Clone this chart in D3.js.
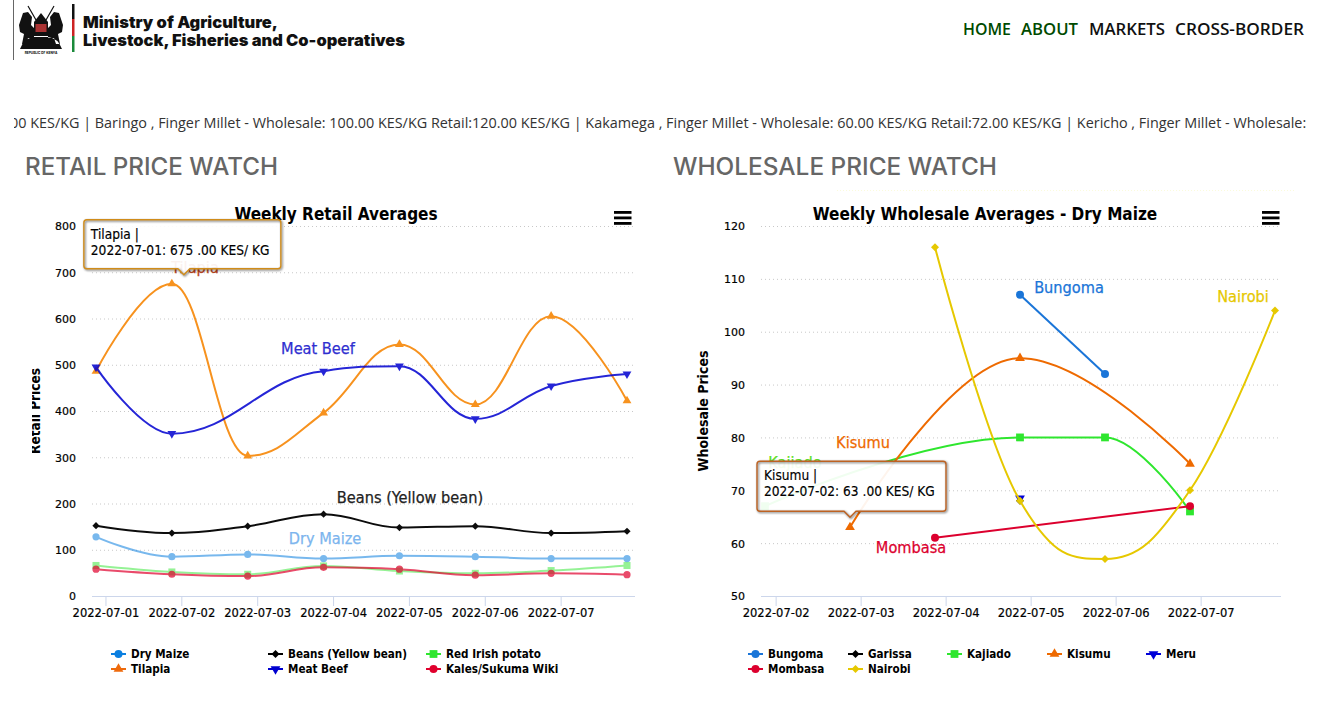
<!DOCTYPE html>
<html>
<head>
<meta charset="utf-8">
<title>Price Watch</title>
<script src="https://cdn.jsdelivr.net/npm/d3@7"></script>
<style>
  html, body { margin: 0; padding: 0; background: #fff; overflow: hidden; }
  svg { display: block; }
  .chart text { font-family: "DejaVu Sans", sans-serif; fill: #000; }
  .tick line { stroke: #c8c8c8; stroke-dasharray: 1 3; }
  .xaxis .tick line { stroke: #ccd6eb; stroke-dasharray: none; }
  .tick text { stroke: #000; stroke-width: .2px; }
  .tip { filter: drop-shadow(1px 1px 1.2px rgba(0,0,0,.6)); }
</style>
</head>
<body>
<svg id="page" width="1324" height="714"></svg>
<script>
"use strict";
// retail chart
const retailDates = ["2022-06-30T21:00Z","2022-07-01T21:00Z","2022-07-02T21:00Z","2022-07-03T21:00Z","2022-07-04T21:00Z","2022-07-05T21:00Z","2022-07-06T21:00Z","2022-07-07T21:00Z"];
const retailTicks = ["2022-07-01","2022-07-02","2022-07-03","2022-07-04","2022-07-05","2022-07-06","2022-07-07"];
const retailYTicks = [0,100,200,300,400,500,600,700,800];
const dryMaize = [128,85,90,81,87,85,81,81];
const beans = [152,136,151,177,148,151,136,140];
const irishPotato = [66,52,47,65,54,49,55,66];
const tilapia = [486,675,303,396,544,414,605,422];
const meatBeef = [495,351,null,486,497,383,454,480];
const kales = [58,47,43,62,58,45,49,46];

// wholesale chart
const wholesaleDates = ["2022-07-01T21:00Z","2022-07-02T21:00Z","2022-07-03T21:00Z","2022-07-04T21:00Z","2022-07-05T21:00Z","2022-07-06T21:00Z","2022-07-07T21:00Z"];
const wholesaleTicks = ["2022-07-02","2022-07-03","2022-07-04","2022-07-05","2022-07-06","2022-07-07"];
const wholesaleYTicks = [50,60,70,80,90,100,110,120];
const bungoma = [null,null,null,107,92,null,null];
const garissa = [null,null,null,68,null,null,null];
const kajiado = [67,null,null,80,80,66,null];
const kisumu = [null,63,null,95,null,75,null];
const meru = [null,null,null,68.5,null,null,null];
const mombasa = [null,null,61,null,null,67,null];
const nairobi = [null,null,116,68,57,70,104];

const tickerText = "00 KES/KG | Baringo , Finger Millet - Wholesale: 100.00 KES/KG Retail:120.00 KES/KG | Kakamega , Finger Millet - Wholesale: 60.00 KES/KG Retail:72.00 KES/KG | Kericho , Finger Millet - Wholesale:";

const svg = d3.select("#page");
const defs = svg.append("defs");
defs.append("clipPath").attr("id","tickerClip").append("rect")
  .attr("x",14).attr("y",105).attr("width",1292).attr("height",35);
defs.append("clipPath").attr("id","retailTitleClip").append("rect")
  .attr("x",32).attr("y",340).attr("width",30).attr("height",140);

const diamond = {draw(ctx, size){
  const r = Math.sqrt(size/2);
  ctx.moveTo(0,-r); ctx.lineTo(r,0); ctx.lineTo(0,r); ctx.lineTo(-r,0); ctx.closePath();
}};
const markers = {
  circle: {type:d3.symbolCircle, k:3.14, rot:0},
  diamond: {type:diamond, k:2, rot:0},
  square: {type:d3.symbolSquare, k:3.8, rot:0},
  triangle: {type:d3.symbolTriangle, k:2.6, rot:0},
  down: {type:d3.symbolTriangle, k:2.6, rot:180}
};
const condensed = '"DejaVu Sans Condensed","DejaVu Sans"';

// spline with the same control points the original charting lib uses
function softSpline(context){
  return {
    areaStart(){}, areaEnd(){},
    lineStart(){ this.pts = []; },
    point(x,y){ this.pts.push([+x,+y]); },
    lineEnd(){
      const pts = this.pts, s = 1.5, d = s+1, conts = [];
      pts.forEach((p,i) => {
        if(i === 0 || i === pts.length-1){ conts.push([p[0],p[1],p[0],p[1]]); return; }
        const a = pts[i-1], b = pts[i+1];
        const lx = (s*p[0]+a[0])/d, rx = (s*p[0]+b[0])/d;
        let ly = (s*p[1]+a[1])/d, ry = (s*p[1]+b[1])/d;
        const c = (ry-ly)*(rx-p[0])/(rx-lx)+p[1]-ry;
        ly += c; ry += c;
        if(ly > a[1] && ly > p[1]){ ly = Math.max(a[1],p[1]); ry = 2*p[1]-ly; }
        else if(ly < a[1] && ly < p[1]){ ly = Math.min(a[1],p[1]); ry = 2*p[1]-ly; }
        if(ry > b[1] && ry > p[1]){ ry = Math.max(b[1],p[1]); ly = 2*p[1]-ry; }
        else if(ry < b[1] && ry < p[1]){ ry = Math.min(b[1],p[1]); ly = 2*p[1]-ry; }
        conts.push([lx,ly,rx,ry]);
      });
      pts.forEach((p,i) => {
        if(i === 0){ context.moveTo(p[0],p[1]); return; }
        const q = conts[i-1], r = conts[i];
        context.bezierCurveTo(q[2],q[3],r[0],r[1],p[0],p[1]);
      });
    }
  };
}

function drawChart(cfg){
  const g = svg.append("g").attr("class","chart");
  const x = d3.scaleUtc().domain(d3.extent(cfg.dates, d3.isoParse)).range(cfg.xRange);
  const y = d3.scaleLinear().domain(d3.extent(cfg.yTicks)).range(cfg.yRange);
  const parseDay = d3.utcParse("%Y-%m-%d");
  const xs = cfg.dates.map(d3.isoParse);

  // grid and value labels
  const yAxis = g.append("g").attr("transform",`translate(${cfg.plotLeft},0)`)
    .call(d3.axisLeft(y).tickValues(cfg.yTicks).tickFormat(d3.format("d")).tickSize(cfg.plotLeft-cfg.plotRight).tickPadding(cfg.yPad));
  yAxis.select(".domain").remove();
  yAxis.selectAll("text").style("font-size","11px").attr("dy","0.36em");

  const xAxis = g.append("g").attr("class","xaxis").attr("transform",`translate(0,${cfg.yRange[0]})`)
    .call(d3.axisBottom(x).tickValues(cfg.ticks.map(parseDay)).tickFormat(d3.utcFormat("%Y-%m-%d")).tickSize(10).tickPadding(-1));
  xAxis.select(".domain").remove();
  xAxis.selectAll("text").style("font-size","11.5px").attr("dy","1.05em");
  g.append("line").attr("x1",cfg.plotLeft).attr("x2",cfg.plotRight)
    .attr("y1",cfg.yRange[0]+0.5).attr("y2",cfg.yRange[0]+0.5).attr("stroke","#ccd6eb");

  g.append("text").attr("x",cfg.titleX).attr("y",220).attr("text-anchor","middle")
    .style("font-size","17px").style("font-weight","700")
    .style("font-family",condensed).text(cfg.title);

  const yTitle = g.append("g").attr("clip-path",cfg.yTitleClip || null);
  yTitle.append("text").attr("transform",`translate(${cfg.yTitleX},${cfg.yTitleY}) rotate(-90)`)
    .attr("text-anchor","middle").style("font-size",cfg.yTitleSize).style("font-weight","700")
    .style("font-family",condensed).text(cfg.yTitleText);

  const line = d3.line().x(d => x(d[0])).y(d => y(d[1])).curve(softSpline);

  cfg.series.forEach(s => {
    const pts = s.values.map((v,i) => [xs[i],v]).filter(d => d[1] !== null);
    const sg = g.append("g").attr("opacity",s.opacity);
    const stroke = s.lineColor || s.color;
    sg.append("path").datum(pts).attr("d",line).attr("fill","none")
      .attr("stroke",stroke).attr("stroke-width",2).attr("stroke-linejoin","round");
    const m = markers[s.marker];
    sg.selectAll("path.mark").data(pts).join("path").attr("class","mark")
      .attr("d",d3.symbol().type(m.type).size(cfg.r*cfg.r*m.k))
      .attr("transform",d => `translate(${x(d[0])},${y(d[1])}) rotate(${m.rot})`)
      .attr("fill",stroke);
    if(s.labelAt){
      const col = s.labelColor || s.color;
      g.append("text").attr("x",s.labelAt[0]).attr("y",s.labelAt[1]).attr("text-anchor","middle")
        .style("font-size","16.2px").style("font-weight","400")
        .style("font-family",condensed)
        .style("fill",col).style("stroke",col).style("stroke-width",".25px").text(s.name);
    }
  });

  // legend
  const legend = g.selectAll("g.leg").data(cfg.series).join("g").attr("class","leg")
    .attr("transform",(s,i) => `translate(${cfg.legendX[i%cfg.legendX.length]},${654+15*Math.floor(i/cfg.legendX.length)})`);
  legend.append("line").attr("x1",0).attr("x2",15).attr("stroke",d => d.color).attr("stroke-width",2);
  legend.append("path")
    .attr("d",s => d3.symbol().type(markers[s.marker].type).size(16*markers[s.marker].k)())
    .attr("transform",s => `translate(7.5,0) rotate(${markers[s.marker].rot})`).attr("fill",d => d.color);
  legend.append("text").attr("x",20).attr("dy","0.36em")
    .style("font-size","11.6px").style("font-weight","700")
    .style("font-family",condensed).text(d => d.name);

  // hamburger
  [0,5.5,11].forEach(o => g.append("rect").attr("x",cfg.plotRight-cfg.menuX).attr("y",211+o)
    .attr("width",17.5).attr("height",2.8).attr("fill","#000"));

  // tooltip, hung off the hovered point
  const t = cfg.tip;
  const px = x(d3.isoParse(t.date))+t.dx, py = y(t.value)-t.dy;
  const l = px-t.left, r = px+t.right, b = py-6, h = t.h;
  const p = d3.path();
  p.moveTo(l+3,b-h); p.lineTo(r-3,b-h); p.quadraticCurveTo(r,b-h,r,b-h+3);
  p.lineTo(r,b-3); p.quadraticCurveTo(r,b,r-3,b);
  p.lineTo(px+6,b); p.lineTo(px,py); p.lineTo(px-6,b);
  p.lineTo(l+3,b); p.quadraticCurveTo(l,b,l,b-3);
  p.lineTo(l,b-h+3); p.quadraticCurveTo(l,b-h,l+3,b-h); p.closePath();
  const tg = g.append("g");
  tg.append("path").attr("d",p.toString()).attr("fill","rgba(255,255,255,0.93)");
  tg.append("path").attr("class","tip").attr("d",p.toString())
    .attr("fill","none").attr("stroke",t.border).attr("stroke-width",1.4);
  [t.line1,t.line2].forEach((txt,i) => tg.append("text").attr("x",l+7).attr("y",b-h+19+16*i)
    .style("font-size","13.6px").style("font-weight","400").style("stroke","#000").style("stroke-width",".15px")
    .style("font-family",condensed).text(txt));
}

drawChart({
  title:"Weekly Retail Averages", titleX:336, dates:retailDates, ticks:retailTicks, yTicks:retailYTicks,
  xRange:[96,627], yRange:[596,226], plotLeft:92, plotRight:635, yPad:16, r:3.6, menuX:21,
  yTitleText:"Retail Prices", yTitleX:40, yTitleY:411, yTitleSize:"13.5px", yTitleClip:"url(#retailTitleClip)",
  legendX:[111,268,426],
  series:[
    {name:"Dry Maize",values:dryMaize,color:"#0b7fe0",marker:"circle",opacity:.55,labelAt:[325,544],labelColor:"#7cb5ee"},
    {name:"Beans (Yellow bean)",values:beans,color:"#000",marker:"diamond",opacity:.95,labelAt:[410,503],labelColor:"#222"},
    {name:"Red Irish potato",values:irishPotato,color:"#2ee62e",marker:"square",opacity:.5},
    {name:"Tilapia",values:tilapia,color:"#ee6a0c",lineColor:"#f7921e",marker:"triangle",opacity:1,labelAt:[195,273],labelColor:"#b8431a"},
    {name:"Meat Beef",values:meatBeef,color:"#0000d0",marker:"down",opacity:.85,labelAt:[318,354],labelColor:"#2f2fd0"},
    {name:"Kales/Sukuma Wiki",values:kales,color:"#e0002d",marker:"circle",opacity:.7}
  ],
  tip:{date:retailDates[1],value:tilapia[1],dx:12,dy:9,left:100,right:97,h:49,border:"#d08c1a",
    line1:"Tilapia |",line2:"2022-07-01: 675 .00 KES/ KG"}
});

drawChart({
  title:"Weekly Wholesale Averages - Dry Maize", titleX:985, dates:wholesaleDates, ticks:wholesaleTicks, yTicks:wholesaleYTicks,
  xRange:[765,1275], yRange:[596,226], plotLeft:761, plotRight:1281, yPad:16, r:4, menuX:19,
  yTitleText:"Wholesale Prices", yTitleX:708, yTitleY:411, yTitleSize:"14px",
  legendX:[748,848,947,1047,1146],
  series:[
    {name:"Bungoma",values:bungoma,color:"#1a75d8",marker:"circle",opacity:1,labelAt:[1069,293]},
    {name:"Garissa",values:garissa,color:"#000",marker:"diamond",opacity:1},
    {name:"Kajiado",values:kajiado,color:"#2ee62e",marker:"square",opacity:1,labelAt:[795,468],labelColor:"#5fe01f"},
    {name:"Kisumu",values:kisumu,color:"#ee6a00",marker:"triangle",opacity:1,labelAt:[863,448]},
    {name:"Meru",values:meru,color:"#0000d8",marker:"down",opacity:1},
    {name:"Mombasa",values:mombasa,color:"#dc002e",marker:"circle",opacity:1,labelAt:[911,553]},
    {name:"Nairobi",values:nairobi,color:"#e6c800",marker:"diamond",opacity:1,labelAt:[1243,302]}
  ],
  tip:{date:wholesaleDates[1],value:kisumu[1],dx:0,dy:10,left:93,right:96,h:50,border:"#bd6222",
    line1:"Kisumu |",line2:"2022-07-02: 63 .00 KES/ KG"}
});

// page furniture
svg.append("line").attr("x1",837).attr("x2",1295).attr("y1",190.5).attr("y2",190.5)
  .attr("stroke","#fbfbdc").attr("stroke-dasharray","1 2");

const heading = (txt,xPos,len) => svg.append("text").attr("x",xPos).attr("y",175)
  .attr("textLength",len).attr("lengthAdjust","spacingAndGlyphs")
  .style("font-family","Inter, sans-serif").style("font-size","24px").style("font-weight","500")
  .style("fill","#666").text(txt);
heading("RETAIL PRICE WATCH",25,253);
heading("WHOLESALE PRICE WATCH",673,324);

svg.append("text").attr("clip-path","url(#tickerClip)").attr("x",10).attr("y",128)
  .style("font-family",'"Open Sans", sans-serif').style("font-size","14.4px").style("fill","#333").text(tickerText);

const navItems = [["HOME",963,48,"#004a00"],["ABOUT",1021,57,"#004a00"],["MARKETS",1089,76,"#111"],["CROSS-BORDER",1175,129,"#111"]];
navItems.forEach(n => svg.append("text").attr("x",n[1]).attr("y",35)
  .attr("textLength",n[2]).attr("lengthAdjust","spacingAndGlyphs")
  .style("font-family",'"Open Sans", sans-serif').style("font-size","16px").style("font-weight","600")
  .style("fill",n[3]).text(n[0]));

[["Ministry of Agriculture,",28,195],["Livestock, Fisheries and Co-operatives",46,322]].forEach(m =>
  svg.append("text").attr("x",83).attr("y",m[1]).attr("textLength",m[2]).attr("lengthAdjust","spacingAndGlyphs")
    .style("font-family","Inter, sans-serif").style("font-size","16px").style("font-weight","900").style("fill","#111").text(m[0]));

// coat of arms, rough
const logo = svg.append("g");
logo.append("line").attr("x1",13.5).attr("x2",13.5).attr("y1",0).attr("y2",60).attr("stroke","#666");
[["#111",4,19],["#c22",19,36],["#1a8a3a",36,52]].forEach(b =>
  logo.append("rect").attr("x",72).attr("y",b[1]).attr("width",2.5).attr("height",b[2]-b[1]).attr("fill",b[0]));
logo.append("path").attr("fill","#111").attr("d",
  "M19 25 L23 13 L28 12 L32 17 L31 25 L34 28 L34 38 L28 38 L26 44 L22 44 L24 34 L20 32 Z" +
  "M63 25 L59 13 L54 12 L50 17 L51 25 L48 28 L48 38 L54 38 L56 44 L60 44 L58 34 L62 32 Z" +
  "M20 49 Q24 38 34 37 L48 37 Q58 38 62 49 Z");
logo.append("path").attr("fill","none").attr("stroke","#111").attr("stroke-width",1.2).attr("d","M28 6 L36 20 M54 6 L46 20");
logo.append("path").attr("fill","#111").attr("d","M34 22 L41 13 L48 22 L48 36 L34 36 Z");
logo.append("rect").attr("x",35.5).attr("y",24).attr("width",11).attr("height",8).attr("fill","#a33");
logo.append("text").attr("x",41).attr("y",54).attr("text-anchor","middle")
  .style("font-family","Inter, sans-serif").style("font-size","3.2px").style("font-weight","700").text("REPUBLIC OF KENYA");
</script>
</body>
</html>
